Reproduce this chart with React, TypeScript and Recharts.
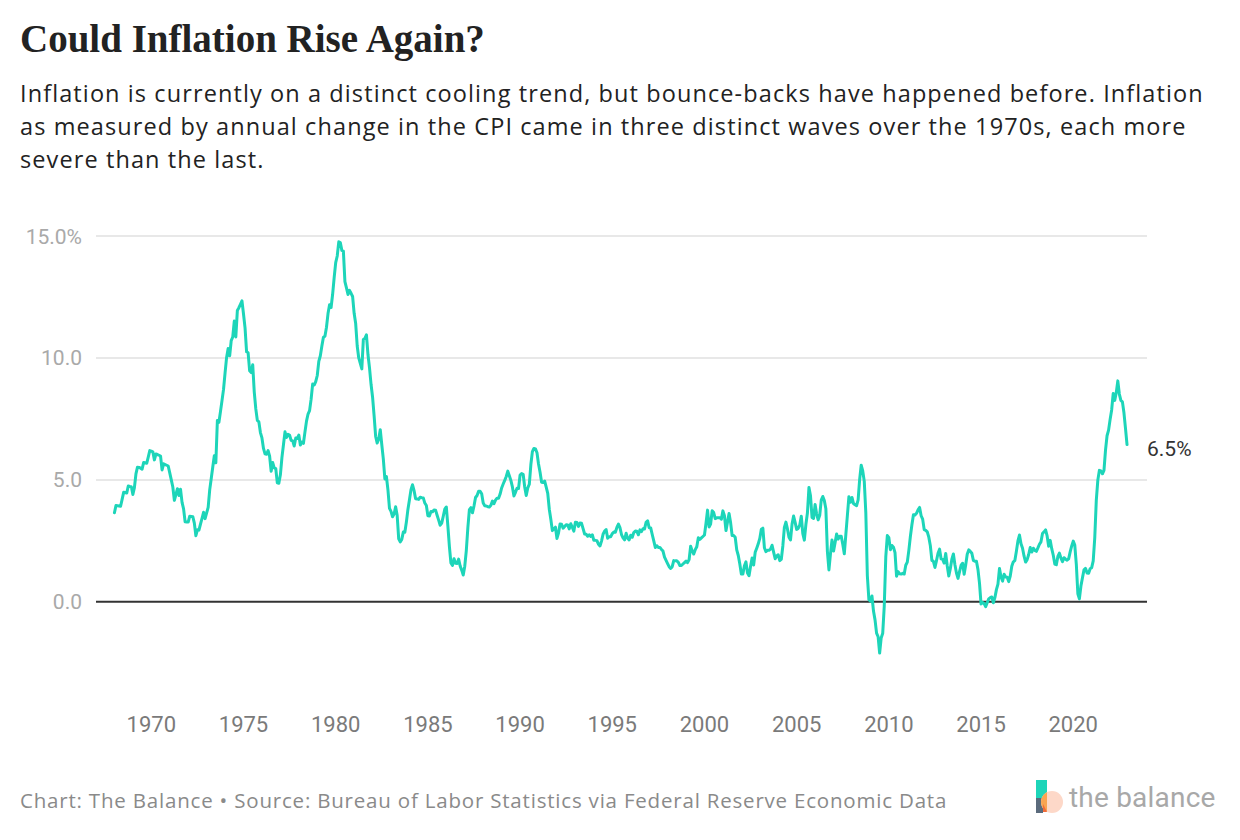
import React from 'react';
import { LineChart, Line, XAxis, YAxis, ReferenceLine, LabelList } from 'recharts';

// Annual % change in CPI, monthly, Jan 1968 - Dec 2022
const startYear = 1968;

const cpi1968to1979 = [
    3.65, 3.95, 3.94, 3.93, 3.92, 4.20, 4.49, 4.48, 4.46, 4.75, 4.73, 4.72,
    4.40, 4.68, 5.25, 5.52, 5.51, 5.48, 5.44, 5.71, 5.70, 5.68, 5.93, 6.20,
    6.18, 6.15, 5.82, 6.06, 6.04, 6.01, 5.98, 5.41, 5.66, 5.63, 5.60, 5.57,
    5.29, 5.00, 4.71, 4.16, 4.40, 4.64, 4.36, 4.62, 4.08, 3.81, 3.28, 3.27,
    3.27, 3.51, 3.50, 3.49, 3.23, 2.71, 2.95, 2.94, 3.19, 3.42, 3.67, 3.41,
    3.65, 3.87, 4.59, 5.06, 5.53, 5.99, 5.70, 7.44, 7.36, 7.80, 8.25, 8.71,
    9.39, 10.02, 10.39, 10.09, 10.71, 10.86, 11.51, 10.86, 11.95, 12.06, 12.20, 12.34,
    11.80, 11.23, 10.25, 10.21, 9.47, 9.40, 9.72, 8.60, 7.91, 7.44, 7.38, 6.94,
    6.72, 6.29, 6.07, 6.05, 6.20, 5.97, 5.35, 5.71, 5.49, 5.46, 4.88, 4.86,
    5.21, 5.91, 6.44, 6.97, 6.74, 6.87, 6.83, 6.62, 6.60, 6.39, 6.72, 6.70,
    6.84, 6.43, 6.55, 6.50, 6.97, 7.41, 7.70, 7.84, 8.31, 8.93, 8.89, 9.03,
    9.28, 9.86, 10.09, 10.49, 10.85, 10.89, 11.26, 11.82, 12.18, 12.07, 12.61, 13.29,
];

const cpi1980s = [
    13.91, 14.18, 14.76, 14.73, 14.41, 14.38, 13.13, 12.87, 12.60, 12.77, 12.65, 12.52,
    11.83, 11.41, 10.49, 10.00, 9.78, 9.55, 10.76, 10.80, 10.95, 10.14, 9.59, 8.92,
    8.39, 7.62, 6.78, 6.51, 6.68, 7.06, 6.44, 5.85, 5.04, 5.14, 4.59, 3.83,
    3.71, 3.49, 3.60, 3.90, 3.55, 2.58, 2.46, 2.56, 2.86, 2.85, 3.27, 3.79,
    4.19, 4.60, 4.80, 4.56, 4.23, 4.22, 4.20, 4.29, 4.27, 4.26, 4.05, 3.95,
    3.53, 3.52, 3.70, 3.69, 3.77, 3.76, 3.55, 3.35, 3.14, 3.23, 3.51, 3.80,
    3.89, 3.11, 2.26, 1.59, 1.49, 1.77, 1.58, 1.57, 1.75, 1.47, 1.30, 1.10,
    1.46, 2.10, 3.03, 3.78, 3.86, 3.65, 3.93, 4.28, 4.36, 4.53, 4.53, 4.43,
    4.05, 3.94, 3.93, 3.90, 3.89, 3.96, 4.13, 4.02, 4.17, 4.25, 4.25, 4.42,
    4.67, 4.83, 4.98, 5.14, 5.36, 5.17, 4.98, 4.71, 4.34, 4.49, 4.66, 4.65,
];

const cpi1990s = [
    5.20, 5.26, 5.23, 4.71, 4.36, 4.67, 4.82, 5.62, 6.16, 6.29, 6.27, 6.11,
    5.65, 5.31, 4.90, 4.89, 4.95, 4.70, 4.45, 3.80, 3.39, 2.92, 2.99, 3.06,
    2.60, 2.82, 3.19, 3.18, 3.02, 3.09, 3.16, 3.15, 2.99, 3.20, 3.05, 2.90,
    3.26, 3.25, 3.09, 3.23, 3.22, 3.00, 2.78, 2.77, 2.69, 2.75, 2.68, 2.75,
    2.52, 2.52, 2.51, 2.36, 2.29, 2.49, 2.77, 2.90, 2.96, 2.61, 2.67, 2.67,
    2.80, 2.86, 2.85, 3.05, 3.19, 3.04, 2.76, 2.62, 2.54, 2.81, 2.61, 2.54,
    2.73, 2.65, 2.84, 2.90, 2.89, 2.75, 2.95, 2.88, 3.00, 2.99, 3.26, 3.32,
    3.04, 3.03, 2.76, 2.50, 2.23, 2.30, 2.23, 2.23, 2.15, 2.08, 1.83, 1.70,
    1.57, 1.44, 1.37, 1.44, 1.69, 1.68, 1.68, 1.62, 1.49, 1.49, 1.55, 1.61,
    1.67, 1.61, 1.73, 2.28, 2.09, 1.96, 2.14, 2.26, 2.63, 2.56, 2.62, 2.68,
];

const cpi2000s = [
    2.74, 3.22, 3.76, 3.07, 3.19, 3.73, 3.66, 3.41, 3.45, 3.45, 3.45, 3.39,
    3.73, 3.53, 2.92, 3.27, 3.62, 3.25, 2.72, 2.72, 2.65, 2.13, 1.90, 1.55,
    1.14, 1.14, 1.48, 1.64, 1.18, 1.07, 1.46, 1.80, 1.51, 2.03, 2.20, 2.38,
    2.60, 2.98, 3.02, 2.22, 2.06, 2.11, 2.11, 2.16, 2.32, 2.04, 1.77, 1.88,
    1.93, 1.69, 1.74, 2.29, 3.05, 3.27, 2.99, 2.65, 2.54, 3.19, 3.52, 3.26,
    2.97, 3.01, 3.15, 3.51, 2.80, 2.53, 3.17, 3.64, 4.69, 4.35, 3.46, 3.42,
    3.99, 3.60, 3.36, 3.55, 4.17, 4.32, 4.15, 3.82, 2.06, 1.31, 1.97, 2.54,
    2.08, 2.42, 2.78, 2.57, 2.69, 2.69, 2.36, 1.97, 2.76, 3.54, 4.31, 4.08,
    4.28, 4.03, 3.98, 3.94, 4.18, 5.02, 5.60, 5.37, 4.94, 3.66, 1.07, 0.09,
    0.03, 0.24, -0.38, -0.74, -1.28, -1.43, -2.10, -1.48, -1.29, -0.18, 1.84, 2.72,
];

const cpi2010s = [
    2.63, 2.14, 2.31, 2.24, 2.02, 1.05, 1.24, 1.15, 1.14, 1.17, 1.14, 1.50,
    1.63, 2.11, 2.68, 3.16, 3.57, 3.56, 3.63, 3.77, 3.87, 3.53, 3.39, 2.96,
    2.93, 2.87, 2.65, 2.30, 1.70, 1.66, 1.41, 1.69, 1.99, 2.16, 1.76, 1.74,
    1.59, 1.98, 1.47, 1.06, 1.36, 1.75, 1.96, 1.52, 1.18, 0.96, 1.24, 1.50,
    1.58, 1.13, 1.51, 1.95, 2.13, 2.07, 1.99, 1.70, 1.66, 1.66, 1.32, 0.76,
    -0.09, -0.03, -0.07, -0.20, -0.04, 0.12, 0.17, 0.20, -0.04, 0.17, 0.50, 0.73,
    1.37, 1.02, 0.85, 1.13, 1.02, 1.01, 0.83, 1.06, 1.46, 1.64, 1.69, 2.07,
    2.50, 2.74, 2.38, 2.20, 1.87, 1.63, 1.73, 1.94, 2.23, 2.04, 2.20, 2.11,
    2.07, 2.21, 2.36, 2.46, 2.80, 2.87, 2.95, 2.70, 2.28, 2.52, 2.18, 1.91,
    1.55, 1.52, 1.86, 2.00, 1.79, 1.65, 1.81, 1.75, 1.71, 1.76, 2.05, 2.29,
];

const cpi2020s = [
    2.49, 2.33, 1.54, 0.33, 0.12, 0.65, 0.99, 1.31, 1.37, 1.18, 1.17, 1.36,
    1.40, 1.68, 2.62, 4.16, 4.99, 5.39, 5.37, 5.25, 5.39, 6.22, 6.81, 7.04,
    7.48, 7.87, 8.54, 8.26, 8.58, 9.06, 8.52, 8.26, 8.20, 7.75, 7.11, 6.45,
];

const xTicks = [1970, 1975, 1980, 1985, 1990, 1995, 2000, 2005, 2010, 2015, 2020];
const yTicks = [0, 5, 10, 15];
const gridValues = [5, 10, 15];

const allValues = [...cpi1968to1979, ...cpi1980s, ...cpi1990s, ...cpi2000s, ...cpi2010s, ...cpi2020s];
const data = allValues.map((v, i) => ({ t: startYear + i / 12, cpi: v }));
const lastIndex = data.length - 1;

const TEAL = '#1dd5b9';
const SANS = 'Roboto, "Noto Sans", sans-serif';
const TEXT_SANS = '"Open Sans", Roboto, sans-serif';

const YTick = (props: any) => {
    const v = props.payload.value;
    const label = v === 15 ? '15.0%' : v.toFixed(1);
    return (
        <text x={props.x - 14} y={props.y + 7.5} textAnchor="end" fill="#a9a9a9" fontSize={21} fontFamily={SANS}>
            {label}
        </text>
    );
};

const XTick = (props: any) => (
    <text x={props.x} y={props.y + 57} textAnchor="middle" fill="#7a7a7a" fontSize={22} fontFamily={SANS}>
        {props.payload.value}
    </text>
);

const EndLabel = (props: any) => {
    if (props.index !== lastIndex) return null;
    return (
        <text x={props.x + 20} y={props.y + 11} fill="#333" fontSize={21} fontFamily={SANS}>
            {Number(props.value).toFixed(1)}%
        </text>
    );
};

const App: React.FC = () => {
    return (
        <div style={{ position: 'absolute', top: 0, left: 0, width: 1240, height: 840, background: '#fff', fontFamily: SANS }}>
            <div style={{ position: 'absolute', top: 17, left: 20, fontFamily: '"Liberation Serif", serif', fontWeight: 700, fontSize: 39, lineHeight: '44px', color: '#222', whiteSpace: 'nowrap' }}>
                Could Inflation Rise Again?
            </div>
            <div style={{ position: 'absolute', top: 77, left: 20, fontFamily: TEXT_SANS, fontSize: 23.5, lineHeight: '33px', letterSpacing: 1.1, color: '#222', whiteSpace: 'nowrap' }}>
                <div>Inflation is currently on a distinct cooling trend, but bounce-backs have happened before. Inflation</div>
                <div>as measured by annual change in the CPI came in three distinct waves over the 1970s, each more</div>
                <div>severe than the last.</div>
            </div>

            <div style={{ position: 'absolute', top: 0, left: 0 }}>
                <LineChart width={1240} height={760} data={data} margin={{ top: 236, right: 93, bottom: 25, left: 0 }}>
                    <XAxis
                        dataKey="t"
                        type="number"
                        domain={[1967, 2024]}
                        ticks={xTicks}
                        axisLine={false}
                        tickLine={false}
                        tickSize={0}
                        tickMargin={0}
                        height={60}
                        tick={<XTick />}
                    />
                    <YAxis
                        type="number"
                        domain={[-3, 15]}
                        ticks={yTicks}
                        axisLine={false}
                        tickLine={false}
                        tickSize={0}
                        tickMargin={0}
                        width={96}
                        tick={<YTick />}
                    />
                    {gridValues.map((g) => (
                        <ReferenceLine key={g} y={g} stroke="#e8e8e8" strokeWidth={2} />
                    ))}
                    <ReferenceLine y={0} stroke="#333" strokeWidth={2} />
                    <Line
                        type="linear"
                        dataKey="cpi"
                        stroke={TEAL}
                        strokeWidth={3}
                        strokeLinejoin="round"
                        strokeLinecap="round"
                        dot={false}
                        isAnimationActive={false}
                    >
                        <LabelList dataKey="cpi" content={<EndLabel />} />
                    </Line>
                </LineChart>
            </div>

            <div style={{ position: 'absolute', top: 787, left: 20, fontFamily: TEXT_SANS, fontSize: 20.5, lineHeight: '26px', letterSpacing: 0.8, color: '#8a8a8a', whiteSpace: 'nowrap' }}>
                Chart: The Balance • Source: Bureau of Labor Statistics via Federal Reserve Economic Data
            </div>

            <svg style={{ position: 'absolute', top: 776, left: 1030 }} width={40} height={42}>
                <rect x={6} y={4} width={11} height={24} fill="#1dd5b9" />
                <rect x={6} y={22} width={7} height={15} fill="#5b6b7c" />
                <circle cx={22} cy={26} r={11} fill="#fdd8c8" />
                <path d="M 17 16.2 A 11 11 0 0 0 17 35.8 Z" fill="#f9a552" />
                <path d="M 13 28 L 17 36 L 13 36 Z" fill="#f26b3a" />
            </svg>
            <div style={{ position: 'absolute', top: 782, left: 1069, fontSize: 28, lineHeight: '32px', color: '#a8a8a8', whiteSpace: 'nowrap', letterSpacing: 0.2 }}>
                the balance
            </div>
        </div>
    );
};

export default App;
